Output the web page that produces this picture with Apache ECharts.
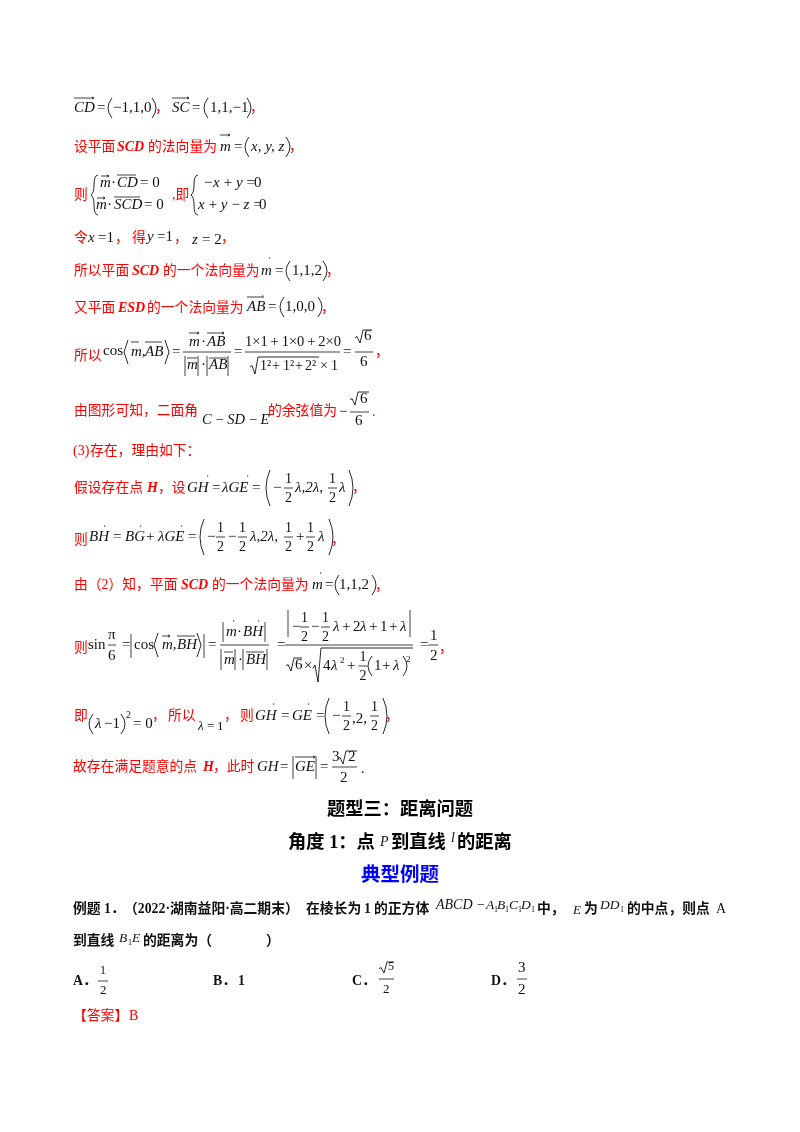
<!DOCTYPE html>
<html>
<head>
<meta charset="utf-8">
<script src="https://cdn.jsdelivr.net/npm/echarts@6/dist/echarts.min.js"></script>
<style>html,body{margin:0;background:#fff}#main{width:800px;height:1132px;filter:blur(0.35px)}</style>
</head>
<body>
<div id="main"></div>
<script>
// 页面文字
var headings = ['题型三：距离问题', '典型例题'];
var optionLabels = ['A．', 'B．', 'C．', 'D．'];
var answerText = '【答案】';
var answerValue = 'B';

var CJK = '"Liberation Serif","Noto Sans CJK SC"', SERIF = '"Liberation Serif"';
var RED = '#ff0000', BLUE = '#0000ff', INK = '#111111';
var els = [];

function put(x, y, s, font, fill, align) {
	els.push({ type: 'text', x: x, y: y, silent: true, style: {
		text: s, font: font, fill: fill || INK, textAlign: align || 'left', textVerticalAlign: 'middle' } });
}
function th(s) { return s.replace(/ /g, '\u2009'); }                      // 窄空格
function cn(x, y, s) { put(x, y, s, '13.8px ' + CJK, RED); }              // 红色中文
function cnb(x, y, s) { put(x, y, s, 'bold 13.8px ' + CJK, INK); }        // 黑色粗体中文
function it(x, y, s, sz) { put(x, y, s, 'italic ' + (sz || 15) + 'px ' + SERIF, INK); }
function rm(x, y, s, sz) { put(x, y, s, (sz || 15) + 'px ' + SERIF, INK); }
function redi(x, y, s) { put(x, y, s, 'italic bold 14px ' + SERIF, RED); }
function comma(x, y) { put(x, y, '，', '13.8px ' + CJK, RED); }
function ln(x1, y1, x2, y2, w, c) {
	els.push({ type: 'line', silent: true, shape: { x1: x1, y1: y1, x2: x2, y2: y2 },
		style: { stroke: c || INK, lineWidth: w || 0.8 } });
}
function arrow(x1, x2, y) { // 向量上方的箭头
	ln(x1, y, x2, y);
	ln(x2 - 2, y - 1.2, x2, y); ln(x2 - 2, y + 1.2, x2, y);
}
function dot(x, y) { ln(x, y, x + 1.2, y, 1.2); }
function poly(pts, w) {
	els.push({ type: 'polyline', silent: true, shape: { points: pts },
		style: { stroke: INK, lineWidth: w || 0.9, fill: 'none' } });
}
function curve(x1, y1, cx, cy, x2, y2) {
	els.push({ type: 'bezierCurve', silent: true, shape: { x1: x1, y1: y1, x2: x2, y2: y2, cpx1: cx, cpy1: cy },
		style: { stroke: INK, lineWidth: 0.9, fill: 'none' } });
}
function paren(x, y, h, right) { // 大括号 ( )
	var w = right ? 4 : -4;
	curve(x, y - h / 2, x + w * 2, y, x, y + h / 2);
}
function brace(x, y, h) {
	var q = h / 4;
	curve(x + 4, y - h / 2, x, y - h / 2, x, y - q);
	curve(x, y - q, x, y - 2, x - 3, y);
	curve(x - 3, y, x, y + 2, x, y + q);
	curve(x, y + q, x, y + h / 2, x + 4, y + h / 2);
}
function angle(x, y, h, right) {
	var w = right ? 4 : -4;
	poly([[x, y - h / 2], [x + w, y], [x, y + h / 2]]);
}
function sqrt(x, y, x2, h) { // 根号，y 为底部
	poly([[x, y - h * 0.4], [x + 2, y - h * 0.5], [x + 5, y], [x + 8, y - h], [x2, y - h]]);
}
function half(x, y, n) { // 分数 n/2
	ln(x, y, x + 9, y);
	put(x + 4.5, y - 9, n || '1', '14px ' + SERIF, INK, 'center');
	put(x + 4.5, y + 10, '2', '14px ' + SERIF, INK, 'center');
}

// 第1行
it(74, 108, 'CD'); arrow(74, 94, 98); rm(97, 108, '='); paren(112, 108, 20); rm(113, 108, '−1,1,0'); paren(152, 108, 20, true); comma(155, 108);
it(172, 108, 'SC'); arrow(172, 189, 98); rm(192, 108, '='); paren(208, 108, 20); rm(210, 108, '1,1,−1'); paren(247, 108, 20, true); comma(250, 108);
// 第2行
cn(74, 147, '设平面'); redi(117, 147, 'SCD'); cn(148, 147, '的法向量为');
it(220, 147, 'm'); arrow(220, 230, 135); rm(234, 147, '='); paren(249, 147, 20); it(251, 147, 'x, y, z'); paren(286, 147, 20, true); comma(289, 147);
// 第3行 方程组
cn(74, 195, '则'); brace(94, 195, 40);
it(100, 183, 'm'); arrow(101, 109, 176); rm(111, 183, '·'); it(117, 183, 'CD'); ln(117, 175, 136, 175); rm(140, 183, '= 0');
it(96, 205, 'm'); arrow(97, 105, 198); rm(107, 205, '·'); it(114, 205, 'SCD'); ln(114, 197, 140, 197); rm(144, 205, '= 0');
cn(172, 195, ',即'); brace(194, 195, 40);
it(203, 183, th('−x + y = ')); rm(254, 183, '0'); it(198, 205, th('x + y − z = ')); rm(259, 205, '0');
// 第4行
cn(74, 238, '令'); it(88, 238, 'x'); rm(98, 238, '=1'); comma(115, 238);
cn(132, 238, '得'); it(147, 237, 'y'); rm(157, 237, '=1'); comma(174, 238);
it(192, 240, 'z'); rm(202, 240, '= 2'); comma(221, 238);
// 第5行
cn(74, 271, '所以平面'); redi(132, 271, 'SCD'); cn(163, 271, '的一个法向量为');
it(261, 271, 'm'); dot(269, 258); rm(275, 271, '='); paren(290, 271, 20); rm(292, 271, '1,1,2'); paren(323, 271, 20, true); comma(326, 271);
// 第6行
cn(74, 308, '又平面'); redi(118, 308, 'ESD'); cn(147, 308, '的一个法向量为');
it(247, 307, 'AB'); ln(247, 297, 264, 297); dot(262, 296); rm(268, 307, '='); paren(284, 307, 20); rm(285, 307, '1,0,0'); paren(318, 307, 20, true); comma(321, 308);
// 第7行
cn(74, 356, '所以'); rm(103, 351, 'cos'); angle(128, 352, 24); it(131, 352, 'm,'); ln(131, 342, 139, 342); it(145, 352, 'AB'); ln(145, 342, 162, 342); angle(165, 352, 24, true); rm(172, 352, '=');
ln(183, 352, 231, 352);
it(189, 342, 'm'); arrow(189, 199, 333); rm(201, 342, '·'); it(207, 342, 'AB'); arrow(207, 224, 333);
ln(185, 356, 185, 376); it(187, 365, 'm'); ln(187, 358, 197, 358); ln(198, 356, 198, 376); rm(201, 365, '·'); ln(207, 356, 207, 376); it(209, 365, 'AB'); ln(209, 358, 227, 358); ln(228, 356, 228, 376);
rm(234, 352, '=');
ln(245, 352, 340, 352); rm(245, 342, th('1×1 + 1×0 + 2×0'), 14.5);
sqrt(250, 374, 319, 17);
rm(260, 366, '1²', 14); rm(272, 366, '+', 14); rm(283, 366, '1²', 14); rm(295, 366, '+', 14); rm(305, 366, '2²', 14); rm(320, 366, '×', 14); rm(331, 366, '1', 14);
rm(343, 352, '='); ln(355, 352, 373, 352); sqrt(355, 343, 372, 13); rm(364, 336, '6'); rm(360, 362, '6');
comma(375, 352);
// 第8行
cn(74, 411, '由图形可知，二面角'); it(202, 420, th('C − SD − E'), 14.5); cn(268, 411, '的余弦值为');
rm(339, 412, '−'); ln(350, 412, 369, 412); sqrt(350, 405, 369, 13); rm(360, 399, '6'); rm(355, 421, '6');
put(372, 412, '.', '14px ' + SERIF, RED);
// 第9行
put(73, 451, '(3)', '14px ' + SERIF, RED); cn(90, 451, '存在，理由如下：');
// 第10行
cn(74, 488, '假设存在点'); redi(147, 488, 'H'); cn(158, 488, '，设');
it(187, 488, 'GH'); dot(207, 476); rm(212, 488, '='); it(222, 488, 'λGE'); dot(247, 476); rm(252, 488, '='); paren(270, 488, 36);
rm(273, 488, '−'); half(284, 488); it(295, 488, 'λ,2λ,'); half(328, 488); it(339, 488, 'λ'); paren(349, 488, 36, true); comma(352, 488);
// 第11行
cn(74, 540, '则'); it(89, 537, 'BH'); dot(104, 526); rm(113, 537, '='); it(125, 537, 'BG'); dot(140, 526); rm(146, 537, '+'); it(158, 537, 'λGE'); dot(181, 526); rm(188, 537, '=');
paren(204, 537, 36); rm(207, 537, '−'); half(216, 537); rm(228, 537, '−'); half(238, 537); it(250, 537, 'λ,2λ,');
half(284, 537); rm(296, 537, '+'); half(306, 537); it(318, 537, 'λ'); paren(329, 537, 36, true); comma(331, 540);
// 第12行
cn(74, 585, '由（2）知，平面'); redi(181, 585, 'SCD'); cn(212, 585, '的一个法向量为');
it(312, 585, 'm'); dot(320, 573); rm(325, 585, '='); paren(339, 585, 20); rm(339, 585, '1,1,2'); paren(372, 585, 20, true); comma(375, 586);
// 第13行
cn(74, 648, '则'); rm(88, 645, 'sin'); ln(108, 645, 116, 645); rm(108, 635, 'π'); rm(108, 656, '6'); rm(122, 645, '=');
ln(131, 634, 131, 658); rm(134, 645, 'cos'); angle(158, 645, 24); it(162, 645, 'm,'); arrow(162, 170, 636); it(177, 645, 'BH'); ln(177, 636, 195, 636); angle(197, 645, 24, true); ln(204, 634, 204, 658);
rm(208, 645, '=');
ln(220, 645, 269, 645);
ln(223, 622, 223, 642); it(226, 632, 'm'); dot(233, 621); rm(237, 632, '·'); it(243, 632, 'BH'); dot(258, 621); ln(265, 622, 265, 642);
ln(221, 649, 221, 670); it(224, 660, 'm'); ln(224, 652, 233, 652); ln(235, 649, 235, 670); rm(238, 660, '·'); ln(243, 649, 243, 670); it(246, 660, 'BH'); ln(246, 652, 264, 652); ln(267, 649, 267, 670);
rm(277, 645, '=');
ln(285, 645, 413, 645); ln(288, 610, 288, 637); rm(292, 627, '−'); half(300, 627); rm(311, 627, '−'); half(321, 627);
it(333, 627, 'λ'); rm(342, 627, '+'); rm(353, 627, '2'); it(360, 627, 'λ'); rm(369, 627, '+'); rm(380, 627, '1'); rm(389, 627, '+'); it(400, 627, 'λ'); ln(410, 610, 410, 637);
sqrt(286, 671, 302, 13); rm(295, 665, '6'); rm(304, 666, '×'); sqrt(313, 682, 413, 34);
rm(323, 666, '4'); it(331, 666, 'λ'); rm(340, 661, '2', 9); rm(347, 666, '+'); half(358.5, 666); paren(372, 666, 20); rm(374, 666, '1'); rm(382, 666, '+'); it(393, 666, 'λ'); paren(403, 666, 20, true); rm(406, 660, '2', 9);
rm(420, 645, '='); ln(428, 645, 438, 645); rm(430, 636, '1'); rm(430, 656, '2'); comma(439, 648);
// 第14行
cn(74, 716, '即'); paren(93, 724, 20); it(95, 724, 'λ'); rm(104, 724, '−1'); paren(121, 724, 20, true); rm(126, 715, '2', 10); rm(133, 724, '= 0'); comma(152, 716);
cn(168, 716, '所以'); it(198, 727, th('λ = ') , 13); rm(217, 727, '1', 13); comma(224, 716); cn(240, 716, '则');
it(255, 716, 'GH'); dot(273, 704); rm(281, 716, '='); it(292, 716, 'GE'); dot(308, 704); rm(316, 716, '='); paren(329, 716, 36);
rm(332, 716, '−'); half(342, 716); rm(352, 719, ',2,'); half(370, 716); paren(383, 716, 36, true); comma(385, 716);
// 第15行
cn(73, 767, '故存在满足题意的点'); redi(203, 767, 'H'); cn(213, 767, '，此时');
it(257, 767, 'GH'); rm(280, 767, '='); ln(293, 756, 293, 779); it(295, 767, 'GE'); arrow(295, 315, 757); ln(316, 756, 316, 779); rm(320, 767, '=');
ln(332, 767, 357, 767); rm(332, 757, '3'); sqrt(338, 764, 357, 13); rm(348, 757, '2'); rm(340, 778, '2'); put(361, 769, '.', '14px ' + SERIF, INK);

// 标题
put(400, 810, headings[0], 'bold 18.3px ' + CJK, '#000', 'center');
put(288, 843, '角度 1：点', 'bold 18.3px ' + CJK, '#000'); it(380, 842, 'P', 14); put(391, 843, '到直线', 'bold 18.3px ' + CJK, '#000'); it(451, 838, 'l', 14); put(457, 843, '的距离', 'bold 18.3px ' + CJK, '#000');
put(400, 876, headings[1], 'bold 19.5px ' + CJK, BLUE, 'center');

// 例题
cnb(73, 909, '例题 1．'); cnb(124, 909, '（2022·湖南益阳·高二期末）'); cnb(306, 909, '在棱长为'); cnb(364, 909, '1'); cnb(374, 909, '的正方体');
it(436, 905, 'ABCD', 14); rm(477, 905, '−', 14); it(486, 905, 'A', 13.5); it(497, 905, 'B', 13.5); it(509, 905, 'C', 13.5); it(521, 905, 'D', 13.5);
rm(494, 910, '1', 8); rm(505, 910, '1', 8); rm(518, 910, '1', 8); rm(531, 910, '1', 8);
cnb(537, 909, '中，'); it(573, 911, 'E', 13); cnb(584, 909, '为'); it(600, 905, 'DD', 13.5); rm(620, 910, '1', 8); cnb(627, 909, '的中点，则点'); rm(716, 909, 'A', 14);
cnb(73, 941, '到直线'); it(119, 938, 'B', 13.5); rm(128, 943, '1', 8); it(132, 938, 'E', 13.5); cnb(143, 941, '的距离为（'); cnb(266, 941, '）');

// 选项
var optX = [73, 213, 352, 491];
cnb(optX[0], 981, optionLabels[0]); ln(98, 981, 108, 981); rm(100, 971, '1', 12); rm(100, 991, '2', 13);
cnb(optX[1], 981, optionLabels[1]); cnb(238, 981, '1');
cnb(optX[2], 981, optionLabels[2]); ln(379, 979, 394, 979); sqrt(379, 973, 394, 11); rm(388, 967, '5', 12); rm(383, 990, '2', 13);
cnb(optX[3], 981, optionLabels[3]); ln(517, 979, 527, 979); rm(518, 968, '3'); rm(518, 990, '2');

// 答案
cn(73, 1016, answerText); put(129, 1016, answerValue, '14px ' + SERIF, RED);

var myChart = echarts.init(document.getElementById('main'), null, { renderer: 'canvas' });
myChart.setOption({
	backgroundColor: '#ffffff',
	animation: false,
	graphic: { elements: els }
});
</script>
</body>
</html>
